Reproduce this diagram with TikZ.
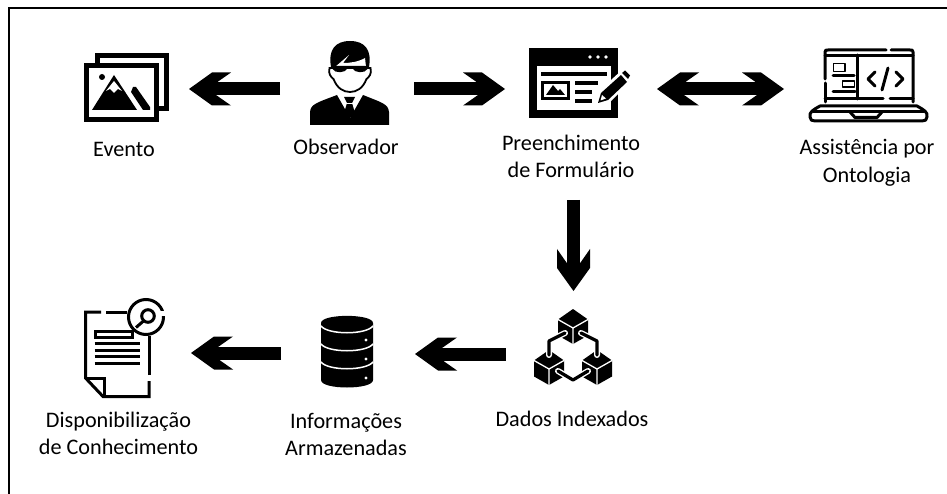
\documentclass[tikz,border=0pt]{standalone}
\usepackage{fontspec}
\setmainfont{Carlito}
\usetikzlibrary{arrows.meta}
\pgfdeclarearrow{
  name=FatHead,
  setup code={
    \pgfarrowssettipend{0pt}
    \pgfarrowssetbackend{-42pt}
    \pgfarrowssetlineend{-26pt}
    \pgfarrowssetvisualbackend{-26pt}
  },
  drawing code={
    \pgfpathmoveto{\pgfpoint{0pt}{0pt}}
    \pgfpathlineto{\pgfpoint{-23pt}{16.5pt}}
    \pgfpathlineto{\pgfpoint{-42pt}{16.5pt}}
    \pgfpathlineto{\pgfpoint{-27pt}{6pt}}
    \pgfpathlineto{\pgfpoint{-27pt}{-6pt}}
    \pgfpathlineto{\pgfpoint{-42pt}{-16.5pt}}
    \pgfpathlineto{\pgfpoint{-23pt}{-16.5pt}}
    \pgfpathclose
    \pgfusepathqfill
  }
}
\tikzset{
  iconbox/.style={inner sep=0pt,outer sep=0pt,minimum width=#1},
  lab/.style={inner sep=0pt,align=center,font=\fontsize{22.2}{27.5}\selectfont,text=black},
  fat/.style={line width=13pt,draw=black,-{FatHead}},
  ink/.style={draw=black,line width=3pt},
  thin ink/.style={draw=black,line width=1.8pt},
  halo/.style={draw=white,line width=1.3pt}
}
\newcommand{\cubeicon}[2]{%
  \begin{scope}[shift={(#1,#2)}]
    \fill[black] (0,0) -- (15,10.5) -- (15,26.5) -- (0,35) -- (-15,26.5) -- (-15,10.5) -- cycle;
    \draw[halo] (-15,10.5) -- (0,19) -- (15,10.5) (0,19) -- (0,35);
  \end{scope}}
\newcommand{\linkicon}[1]{%
  \draw[white,line width=6pt,line cap=round,line join=round] #1;
  \draw[black,line width=3.2pt,line cap=round,line join=round] #1;}
\begin{document}
\begin{tikzpicture}[x=1pt,y=-1pt]
\useasboundingbox (0,0) rectangle (947,494);
\fill[white] (0,0) rectangle (947,494);
\draw[line width=1.5pt,black] (8.8,494) -- (8.8,8.2) -- (947,8.2);

% anchor boxes of the icons
\node[iconbox=85pt,minimum height=72pt] (evt) at (126.5,89) {};
\node[iconbox=80pt,minimum height=84pt] (obs) at (349,89) {};
\node[iconbox=100pt,minimum height=70pt] (frm) at (579,89) {};
\node[iconbox=119pt,minimum height=73pt] (lap) at (868.5,89) {};
\node[iconbox=78pt,minimum height=90pt] (idx) at (573.5,354) {};
\node[iconbox=52pt,minimum height=71pt] (dbs) at (347,354) {};
\node[iconbox=80pt,minimum height=98pt] (doc) at (125,353) {};

% Evento
\begin{scope}
  \fill[black] (95,53) rectangle (169,111);
  \fill[white] (100,58) rectangle (164,106);
  \fill[black] (84,63) rectangle (159,122);
  \fill[white] (89,68) rectangle (154,117);
  \fill[black] (102,77) circle (3);
  \fill[black] (114,75) -- (137,110) -- (92,110) -- cycle;
  \fill[white] (114,81) -- (122,91) -- (118,89) -- (114,93) -- (110,89) -- (106,91) -- cycle;
  \fill[black] (133,87) -- (136,87) -- (150,107) -- (150,110) -- (143,110) -- (131,92) -- cycle;
\end{scope}

% Observador
\begin{scope}
  \fill[black] (310,125) -- (310,112) .. controls (311,104) and (316,103) .. (337,95)
    -- (350,118) -- (363,95) .. controls (383,103) and (388,104) .. (389,112) -- (389,125) -- cycle;
  \fill[black] (344,97) -- (355,97) -- (352,103) -- (355,113) -- (349.5,118) -- (344,113) -- (347,103) -- cycle;
  \draw[white,line width=.8pt] (346,103) -- (353,103);
  \draw[thin ink,fill=white] (329.5,68) .. controls (328,74) and (331,77) .. (333.5,79)
    .. controls (337,88) and (343,92) .. (350,92)
    .. controls (357,92) and (363,88) .. (366.5,79)
    .. controls (369,77) and (372,74) .. (370.5,68) -- cycle;
  \fill[black] (331,67) .. controls (328,50) and (335,41) .. (350,41)
    .. controls (365,41) and (372,50) .. (369,67) -- (331,67) -- cycle;
  \fill[white] (335,67) -- (349,55) -- (343,63) .. controls (350,63) and (358,62) .. (365,58)
    -- (366,67) -- cycle;
  \fill[black] (332,66) -- (368,66) -- (367.5,69) .. controls (365,73.5) and (355,73.5) .. (352,68)
    -- (348,68) .. controls (345,73.5) and (335,73.5) .. (332.5,69) -- cycle;
\end{scope}

% Preenchimento de Formulario
\begin{scope}
  \fill[black] (529,48) rectangle (618,118);
  \fill[white] (537,66) rectangle (611,110);
  \foreach \dx in {590,598,606} \fill[white] (\dx,57) circle (1.9);
  \fill[black] (541,72) rectangle (607,76);
  \fill[black] (541,81) rectangle (570,100);
  \fill[white] (544,84) rectangle (567,97);
  \fill[black] (546,95) -- (553,85) -- (558,91) -- (560,89) -- (565,95) -- cycle;
  \fill[black] (575,81) rectangle (598,85);
  \fill[black] (575,90) rectangle (592,94);
  \fill[black] (575,99) rectangle (592,103);
  \fill[white,draw=white,line width=3pt] (598,103) -- (600,92) -- (622,72) -- (630,80) -- (609,101) -- cycle;
  \fill[black] (598,103) -- (601,93) -- (621,75) -- (627,82) -- (608,100) -- cycle;
  \fill[white] (600.5,100.5) -- (602,95) -- (606,98.5) -- cycle;
  \fill[black] (622,73) -- (625,70.5) -- (630,75.5) -- (628,79) -- cycle;
\end{scope}

% Assistencia por Ontologia
\begin{scope}[line cap=round,line join=round]
  \draw[ink] (825,79) -- (825,52) .. controls (825,50) and (826,50) .. (828,50) -- (886,50);
  \draw[ink] (891,50) -- (910,50) .. controls (912,50) and (913,50) .. (913,52) -- (913,102);
  \draw[ink] (825,83) -- (825,102);
  \draw[ink] (825,55.5) -- (913,55.5);
  \draw[ink] (857,55) -- (857,99);
  \draw[ink] (825,99) -- (883,99);
  \draw[ink] (890,99) -- (913,99);
  \draw[thin ink] (833.5,63.5) rectangle (845,71.5);
  \draw[ink] (833,76) -- (854,76);
  \draw[thin ink] (842.5,81) rectangle (854.5,87);
  \draw[ink] (833,92) -- (855,92);
  \draw[ink] (875,72) -- (868,79) -- (875,86);
  \draw[ink] (888,68) -- (882,90);
  \draw[ink] (896,72) -- (903,79) -- (896,86);
  \draw[ink] (820,106) -- (917,106) .. controls (924,110) and (928,112) .. (927,117)
    .. controls (927,120) and (925,121) .. (922,121) -- (815,121)
    .. controls (812,121) and (810,120) .. (810,117) .. controls (809,112) and (813,110) .. (820,106) -- cycle;
  \draw[ink] (813,112) -- (924,112);
  \draw[ink] (850,112) -- (855,117.5) -- (877,117.5) -- (882,112);
\end{scope}

% Dados Indexados
\cubeicon{573}{309}
\cubeicon{549}{350}
\cubeicon{597}{350}
\linkicon{(565,333) -- (549,341) -- (549,355)}
\linkicon{(581,333) -- (597,341) -- (597,355)}
\linkicon{(558,371) -- (573,380) -- (588,371)}

% Informacoes Armazenadas
\begin{scope}
  \fill[black] (321,323) .. controls (321,313.5) and (373,313.5) .. (373,323) -- (373,380)
    .. controls (373,390) and (321,390) .. (321,380) -- cycle;
  \draw[white,line width=1.5pt] (321,326) .. controls (328,335) and (366,335) .. (373,326);
  \draw[white,line width=1.5pt] (321,344) .. controls (328,353) and (366,353) .. (373,344);
  \draw[white,line width=1.5pt] (321,362) .. controls (328,371) and (366,371) .. (373,362);
  \foreach \dy in {340,359,378} \fill[white] (366,\dy) circle (1.7);
\end{scope}

% Disponibilizacao de Conhecimento
\begin{scope}
  \draw[ink] (101,312) -- (85.5,312) -- (85.5,378) -- (103,396.5) -- (149,396.5) -- (149,381);
  \draw[ink] (106,312) -- (127,312);
  \draw[ink] (149,375) -- (149,336);
  \draw[ink] (85.5,378) -- (104,378) -- (104,396.5);
  \draw[ink] (95,331) rectangle (132,337);
  \foreach \ly in {343,350,356.5,363} \draw[ink] (94.5,\ly) -- (140,\ly);
  \draw[ink,fill=white] (146,317) circle (17.5);
  \fill[white] (160,311) rectangle (168,316);
  \draw[ink] (148,316) circle (6.3);
  \draw[ink] (143.5,321) -- (136,327.5);
\end{scope}

% connectors
\draw[fat,shorten <=29pt,shorten >=20pt] (obs.west) -- (evt.east);
\draw[fat,shorten <=25pt,shorten >=24pt] (obs.east) -- (frm.west);
\draw[line width=13pt,draw=black,{FatHead}-{FatHead},shorten <=28pt,shorten >=25pt] (frm.east) -- (lap.west);
\draw[fat,shorten <=76pt,shorten >=18pt] (idx.north |- frm.south) -- (idx.north);
\draw[fat,shorten <=29pt,shorten >=42pt] (idx.west) -- (dbs.east);
\draw[fat,shorten <=40pt,shorten >=26pt] (dbs.west |- doc.east) -- (doc.east);

% labels
\node[lab] (l1) at (124,149) {Evento};
\node[lab] (l2) at (346,147) {Observador};
\node[lab] (l3) at (571,156.5) {Preenchimento\\de Formulário};
\node[lab] (l4) at (867,163) {Assistência por\\Ontologia};
\node[lab] (l5) at (572,419) {Dados Indexados};
\node[lab] (l6) at (346,434.5) {Informações\\Armazenadas};
\node[lab] (l7) at (118.5,433.5) {Disponibilização\\de Conhecimento};
\end{tikzpicture}
\end{document}
